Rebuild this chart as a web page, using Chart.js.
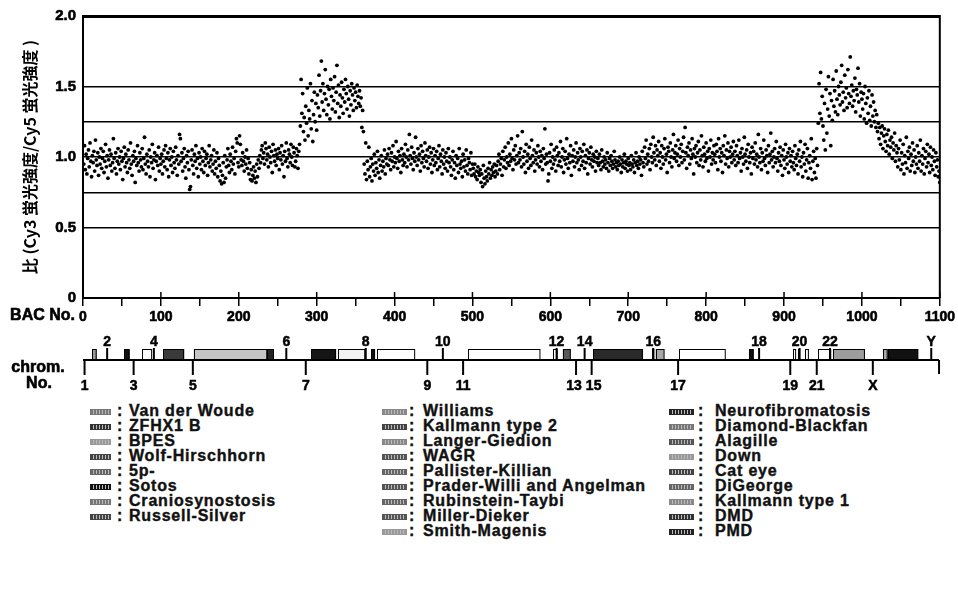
<!DOCTYPE html>
<html lang="ja">
<head>
  <meta charset="UTF-8" />
  <title>BAC array - ratio plot</title>
  <script src="https://cdn.jsdelivr.net/npm/chart.js@4"></script>
  <style>
    body {
      margin: 0;
      background: #fff;
      font-family: 'Liberation Sans', Arial, sans-serif;
    }
    .wrap {
      position: relative;
      width: 958px;
      height: 595px;
      overflow: hidden;
    }
    #bacChart {
      position: absolute;
      left: 0;
      top: 0;
    }
    /* disease legend under the chromosome map */
    .legend {
      position: absolute;
      left: 0;
      top: 403px;
      width: 958px;
      font-family: 'Liberation Sans', Arial, sans-serif;
      font-weight: bold;
      font-size: 16px;
      line-height: 16px;
      letter-spacing: 0.8px;
      -webkit-text-stroke: 0.4px #111;
      color: #111;
    }
    .legend .row {
      position: absolute;
      height: 15px;
      white-space: nowrap;
    }
    .legend .sw {
      position: absolute;
      top: 6px;
      height: 4px;
    }
    .legend .colon, .legend .txt {
      position: absolute;
      top: 0;
    }
  </style>
</head>
<body>
<div class="wrap">
  <canvas id="bacChart" width="958" height="400" style="width:958px;height:400px"></canvas>
  <div class="legend" id="legend"></div>
</div>

<script>
  // ratio Cy3/Cy5 for BAC No. 1..1100
  const ratio = [
    // 1-50
    0.95,1.08,0.91,1.02,0.88,0.99,1.05,0.93,1.10,0.97,0.86,1.01,0.96,1.04,0.90,1.12,0.98,0.94,1.03,0.87,1.00,0.95,1.06,0.92,0.99,
    1.04,0.89,0.97,1.09,0.93,1.01,0.85,0.98,1.05,0.94,1.02,0.90,0.96,1.13,0.99,0.92,1.03,0.88,0.97,1.06,0.95,1.00,0.91,1.04,0.97,
    // 51-100
    0.84,0.99,1.07,0.93,1.02,0.96,0.89,1.05,0.98,0.92,1.10,0.95,0.87,1.01,0.97,1.04,0.82,0.99,0.94,1.08,0.96,0.90,1.03,0.98,0.93,
    1.06,0.91,0.99,1.14,0.95,0.88,1.02,0.97,0.93,1.05,0.86,1.00,0.96,1.09,0.92,0.98,1.03,0.84,0.97,1.01,0.94,1.07,0.90,0.99,0.95,
    // 101-150
    1.02,0.88,0.97,1.05,0.93,1.08,0.99,0.91,1.03,0.86,0.98,1.06,0.94,1.00,0.89,1.04,0.96,0.92,1.07,0.98,0.87,1.01,0.95,1.16,1.13,
    0.97,1.03,0.90,0.99,1.06,0.93,0.85,1.01,0.96,1.04,0.91,0.77,0.79,0.98,1.05,0.94,0.88,1.02,0.97,1.08,0.92,0.99,0.86,1.03,0.95,
    // 151-200
    1.00,0.91,1.06,0.97,0.89,1.04,0.94,0.99,1.02,0.87,0.96,1.08,0.93,0.98,1.01,0.90,0.95,1.05,0.88,0.97,0.92,1.03,0.86,0.99,0.94,
    0.83,0.90,0.81,0.87,0.96,0.82,1.01,0.85,0.93,0.98,1.06,0.94,0.89,1.02,0.97,0.91,1.07,0.95,0.99,0.88,1.04,1.13,1.10,0.96,0.93,
    // 201-250
    1.15,1.09,0.98,0.94,1.03,0.97,0.90,1.00,0.95,1.05,0.92,0.99,0.88,0.96,0.84,0.91,0.83,0.87,0.93,0.85,0.90,0.82,0.95,0.86,0.98,
    0.92,1.01,0.96,1.05,1.08,0.99,1.03,0.95,1.10,1.06,0.98,1.02,0.93,1.07,1.00,0.96,1.04,0.89,1.09,1.01,0.97,1.05,0.94,1.02,0.99,
    // 251-278
    1.06,0.91,1.03,0.98,1.08,0.95,1.01,0.86,1.04,0.97,1.10,0.99,0.93,1.05,1.02,0.96,1.09,1.00,0.94,1.07,1.03,0.93,0.97,1.06,1.01,0.92,1.04,1.09,
    // 279-360 (gain)
    1.22,1.55,1.31,1.45,1.18,1.28,1.12,1.36,1.24,1.49,1.15,1.33,1.27,1.52,1.20,1.40,1.11,1.30,1.46,1.25,1.38,1.19,
    1.44,1.35,1.58,1.29,1.47,1.68,1.39,1.52,1.33,1.45,1.62,1.41,1.30,1.50,1.37,1.48,1.27,1.55,1.43,1.34,1.49,1.40,1.57,1.32,1.46,1.65,1.38,1.51,1.28,1.44,
    1.36,1.53,1.42,1.31,1.48,1.39,1.55,1.45,1.34,1.50,1.41,1.29,1.47,1.37,1.52,1.44,1.33,1.49,1.40,1.46,1.35,1.51,1.43,1.38,1.47,1.36,1.42,1.21,1.33,1.18,
    // 361-470
    0.95,0.88,1.10,0.84,0.97,0.91,1.07,0.86,0.93,0.99,0.83,0.95,0.90,1.02,0.87,0.96,0.92,1.04,0.89,0.98,0.85,0.94,1.01,0.90,0.97,0.93,1.05,0.88,0.99,0.95,
    1.02,0.94,1.06,0.98,0.91,1.03,0.97,1.08,0.93,1.00,0.96,1.11,0.99,0.92,1.04,0.97,1.01,0.89,1.06,0.98,0.94,1.02,0.96,1.09,1.00,
    0.93,1.05,0.98,1.16,1.01,0.95,1.07,0.99,0.91,1.03,0.97,1.14,1.00,0.94,1.06,0.98,1.02,0.90,1.08,0.96,1.04,0.99,0.93,1.10,1.01,
    0.97,1.05,0.92,1.00,1.07,0.95,1.03,0.89,0.98,1.06,0.94,1.01,0.96,1.04,0.91,0.99,1.08,0.93,1.02,0.97,0.88,1.05,0.95,1.00,0.92,1.03,0.97,0.90,1.06,0.96,
    // 471-560
    1.00,0.93,0.87,0.98,1.04,0.91,0.96,0.85,1.01,0.94,0.99,0.89,1.06,0.95,0.92,0.97,0.86,1.02,0.93,0.98,0.90,1.05,0.94,0.88,0.99,0.96,0.91,1.03,0.87,0.95,
    0.92,0.88,0.95,0.86,0.90,0.84,0.93,0.89,0.87,0.91,0.82,0.88,0.79,0.94,0.85,0.81,0.90,0.86,0.83,0.92,0.88,0.96,0.85,0.91,0.87,0.93,0.89,0.95,0.86,0.90,
    0.94,0.88,0.97,1.02,0.91,0.95,0.99,0.87,1.04,0.93,0.98,1.07,0.92,1.00,0.96,1.10,0.94,1.02,0.97,1.13,0.99,0.91,1.05,0.98,1.08,0.95,1.01,1.15,0.96,1.03,
    // 561-660
    0.98,1.06,0.93,1.18,1.00,0.95,1.04,0.89,1.09,0.97,1.02,0.92,1.07,0.99,0.94,1.12,1.01,0.96,1.05,0.90,0.98,1.03,0.95,1.08,1.00,
    0.93,1.04,0.97,1.01,0.91,1.06,0.99,1.20,0.95,1.02,0.96,0.83,0.88,1.03,0.97,1.09,0.92,1.00,0.95,1.05,0.98,0.90,1.07,1.01,0.94,
    1.03,0.97,1.11,0.93,1.00,1.06,0.89,0.98,1.04,0.95,1.13,0.99,0.92,1.02,0.96,1.08,0.87,1.01,0.97,1.05,0.93,1.00,1.10,0.96,1.03,
    0.98,0.91,1.06,1.00,0.94,1.04,0.97,1.09,0.92,1.01,0.96,1.05,0.88,0.99,1.03,0.95,1.07,0.98,0.93,1.02,0.97,1.00,0.90,1.04,0.96,
    // 661-760
    0.99,0.94,1.02,0.96,0.91,1.05,0.97,0.93,1.00,0.95,0.98,0.92,1.03,0.96,0.90,0.99,0.94,1.01,0.97,0.92,0.95,1.04,0.98,0.93,0.96,
    0.91,0.97,0.94,1.00,0.95,0.89,0.98,0.93,0.96,1.02,0.92,0.97,0.95,0.90,0.99,0.94,0.96,0.91,1.01,0.95,0.93,0.98,0.89,0.96,1.03,
    0.94,0.97,0.92,1.00,0.95,0.98,0.87,1.04,0.96,0.93,1.07,0.99,1.12,0.95,1.02,0.97,1.06,0.91,1.09,1.00,0.96,1.14,1.03,0.98,1.08,
    0.94,1.05,1.01,1.11,0.97,1.03,0.92,1.08,1.00,0.95,1.06,1.13,0.98,1.02,0.89,1.07,1.04,0.96,1.10,1.00,0.93,1.05,1.16,0.99,1.03,
    // 761-860
    1.08,0.97,1.02,1.12,0.94,1.06,1.00,1.09,0.96,1.04,1.14,0.98,1.21,1.03,0.92,1.07,1.01,1.10,0.95,1.05,0.99,1.13,1.02,0.88,1.06,
    1.00,1.08,0.96,1.03,1.11,0.94,1.05,0.98,1.15,1.01,0.93,1.07,1.02,0.97,1.10,0.99,1.04,0.90,1.06,1.00,1.12,0.95,1.03,0.98,1.08,
    1.02,0.96,1.09,1.04,0.91,1.13,1.00,1.06,0.97,1.03,0.89,1.08,1.01,1.15,0.95,1.05,0.99,1.10,0.93,1.04,1.00,1.07,0.96,1.02,1.11,
    0.98,1.04,0.94,1.08,1.01,0.96,1.12,0.99,1.03,0.90,1.06,1.00,0.95,1.14,1.02,0.97,1.05,0.92,1.09,1.00,0.96,1.03,0.88,1.07,0.99,
    // 861-943
    1.04,0.95,1.10,0.98,1.02,0.93,1.16,1.00,0.96,1.06,0.91,1.03,0.97,1.12,0.99,0.94,1.05,1.01,0.89,1.08,0.96,1.02,1.17,0.98,1.04,
    0.93,1.00,1.06,0.96,1.11,0.99,0.90,1.03,0.97,1.07,0.94,1.01,0.87,1.05,0.98,0.92,1.09,1.00,0.95,1.03,0.89,1.06,0.97,1.01,0.93,
    1.04,0.96,0.91,1.08,0.99,0.94,1.02,0.88,1.05,0.97,1.11,0.93,1.00,0.86,1.03,0.95,1.09,0.90,0.98,1.06,0.85,0.96,1.01,0.92,1.13,0.84,0.97,1.04,0.89,0.99,0.85,1.06,0.94,
    // 944-1019 (gain)
    1.24,1.52,1.31,1.60,1.27,1.43,1.22,1.12,1.38,1.05,1.48,1.17,1.34,1.57,1.29,1.45,1.08,1.40,1.26,1.55,1.36,1.47,1.32,1.61,1.41,1.30,1.50,
    1.44,1.37,1.53,1.65,1.39,1.46,1.33,1.58,1.42,1.49,1.35,1.62,1.45,1.38,1.71,1.43,1.51,1.36,1.47,1.40,1.56,1.32,1.48,1.44,1.63,1.39,1.52,1.29,1.46,1.41,
    1.34,1.45,1.27,1.50,1.38,1.24,1.42,1.31,1.47,1.26,1.36,1.22,1.44,1.29,1.39,1.25,1.33,1.21,1.30,
    // 1020-1100
    1.18,1.24,1.13,1.21,1.09,1.17,1.22,1.06,1.15,1.20,1.11,1.04,1.16,1.08,1.19,1.02,1.12,1.07,1.14,0.99,1.10,1.05,1.17,0.97,1.08,1.03,
    0.93,1.06,0.98,1.12,0.91,1.03,0.95,1.09,0.88,1.01,0.96,1.14,0.92,1.04,0.99,1.07,0.90,1.02,0.94,1.10,0.97,1.05,0.89,1.00,0.95,
    1.08,0.92,1.03,0.97,1.12,0.90,1.01,0.95,1.06,0.88,0.99,1.04,0.93,1.09,0.96,1.02,0.89,1.07,0.94,1.00,0.91,1.05,0.97,0.87,1.03,0.93,0.98,0.86,0.90,0.82
  ];

  const yTickValues = [0, 0.5, 1, 1.5, 2];
  const yTickText = ['0', '0.5', '1.0', '1.5', '2.0'];
  const guideValues = [0.5, 0.75, 1, 1.25, 1.5];
  const yTitle = '比 (Cy3 蛍光強度/Cy5 蛍光強度 )';

  // chromosome boundaries in BAC No.
  const chromName = ['1','2','3','4','5','6','7','8','9','10','11','12','13','14','15','16','17','18','19','20','21','22','X','Y'];
  const chromPos = [2,31,65,91,141,261,286,363,442,462,488,608,633,644,653,732,764,868,908,920,942,959,1014,1089];
  const chromEnd = 1099;

  // disease regions on the map (BAC No. from / to)
  const regionFrom = [12,53,76,103,142,236,293,327,370,377,494,603,616,655,730,735,765,855,911,918,927,944,963,1027,1033];
  const regionTo   = [18,60,89,130,236,245,325,362,375,426,587,609,626,719,733,746,825,861,915,920,932,961,1004,1033,1072];
  const regionShade = ['#9a9a9a','#111','#fff','#3a3a3a','#c4c4c4','#222','#151515','#f2f2f2','#111','#fff','#fff','#fff',
                       '#5a5a5a','#2a2a2a','#fff','#a8a8a8','#fff','#111','#fff','#fff','#fff','#fff','#9c9c9c','#aaa','#111'];

  const legendLeft = ['Van der Woude','ZFHX1 B','BPES','Wolf-Hirschhorn','5p-','Sotos','Craniosynostosis','Russell-Silver'];
  const legendMid = ['Williams','Kallmann type 2','Langer-Giedion','WAGR','Pallister-Killian','Prader-Willi and Angelman','Rubinstein-Taybi','Miller-Dieker','Smith-Magenis'];
  const legendRight = ['Neurofibromatosis','Diamond-Blackfan','Alagille','Down','Cat eye','DiGeorge','Kallmann type 1','DMD','PMD'];
  const shadeLeft = ['#777','#333','#999','#444','#666','#111','#777','#444'];
  const shadeMid = ['#888','#444','#888','#555','#666','#555','#666','#555','#999'];
  const shadeRight = ['#222','#777','#555','#999','#444','#666','#888','#333','#222'];

  const points = ratio.map((v, i) => ({ x: i + 1, y: v }));

  const boldText = (ctx, s, x, y) => {
    ctx.strokeText(s, x, y);
    ctx.fillText(s, x, y);
  };

  const chromMap = {
    id: 'chromMap',
    afterDraw(chart) {
      const { ctx, chartArea: a, scales: { x } } = chart;
      ctx.save();
      ctx.strokeStyle = '#000';
      ctx.fillStyle = '#000';

      // right frame
      ctx.lineWidth = 2;
      ctx.beginPath();
      ctx.moveTo(a.right, a.top - 1);
      ctx.lineTo(a.right, a.bottom);
      ctx.stroke();

      // major ticks also reach into the plot
      ctx.lineWidth = 1.5;
      for (let v = 0; v <= 1100; v += 100) {
        const px = x.getPixelForValue(v);
        ctx.beginPath();
        ctx.moveTo(px, a.bottom);
        ctx.lineTo(px, a.bottom - 6);
        ctx.stroke();
      }

      ctx.font = 'bold 16px "Liberation Sans", Arial, sans-serif';
      ctx.textBaseline = 'middle';
      ctx.lineWidth = 0.6;
      ctx.textAlign = 'right';
      boldText(ctx, 'BAC No.', 75, 316);
      ctx.textAlign = 'center';
      boldText(ctx, 'chrom.', 38, 368);
      boldText(ctx, 'No.', 39, 384);

      // disease boxes
      const base = 360;
      regionFrom.forEach((s, i) => {
        const x0 = x.getPixelForValue(s);
        const x1 = x.getPixelForValue(regionTo[i]);
        ctx.fillStyle = regionShade[i];
        ctx.fillRect(x0, base - 11, x1 - x0, 11);
        ctx.lineWidth = 1;
        ctx.strokeRect(Math.round(x0) + 0.5, base - 10.5, Math.max(1, x1 - x0 - 1), 10);
      });

      // chromosome line
      ctx.lineWidth = 2;
      ctx.beginPath();
      ctx.moveTo(x.getPixelForValue(0), base);
      ctx.lineTo(x.getPixelForValue(chromEnd), base);
      ctx.stroke();

      ctx.fillStyle = '#000';
      ctx.font = 'bold 14px "Liberation Sans", Arial, sans-serif';
      ctx.textAlign = 'center';
      chromPos.forEach((p, i) => {
        const px = x.getPixelForValue(p);
        const up = i % 2 === 1;
        ctx.lineWidth = 2;
        ctx.beginPath();
        ctx.moveTo(px, base);
        ctx.lineTo(px, up ? base - 12 : base + 15);
        ctx.stroke();
        ctx.lineWidth = 0.5;
        // 13 and 15 sit very close together
        const nudge = chromName[i] === '13' ? -2 : chromName[i] === '15' ? 2 : 0;
        boldText(ctx, chromName[i], px + nudge, up ? 342 : 386);
      });
      const pe = x.getPixelForValue(chromEnd);
      ctx.lineWidth = 2;
      ctx.beginPath();
      ctx.moveTo(pe, base);
      ctx.lineTo(pe, base + 14);
      ctx.stroke();

      ctx.restore();
    }
  };

  new Chart(document.getElementById('bacChart'), {
    type: 'scatter',
    data: {
      datasets: [{
        data: points,
        pointRadius: 1.9,
        pointHoverRadius: 1.9,
        pointBackgroundColor: '#000',
        pointBorderWidth: 0
      }]
    },
    options: {
      responsive: false,
      animation: false,
      layout: { padding: { top: 14, right: 18, left: 0, bottom: 0 } },
      plugins: {
        legend: { display: false },
        tooltip: { enabled: false }
      },
      scales: {
        x: {
          type: 'linear',
          min: 0,
          max: 1100,
          afterFit: s => { s.height = 102; },
          border: { color: '#000', width: 2 },
          grid: { drawOnChartArea: false, color: '#000', lineWidth: 1.5, tickLength: 8 },
          ticks: {
            stepSize: 50,
            autoSkip: false,
            maxRotation: 0,
            padding: 3,
            color: '#000',
            textStrokeColor: '#000',
            textStrokeWidth: 0.6,
            font: { family: 'Liberation Sans', weight: 'bold', size: 14 },
            callback: v => (v % 100 === 0 ? String(v) : '')
          }
        },
        y: {
          min: 0,
          max: 2,
          afterFit: s => { s.width = 83; },
          border: { color: '#000', width: 2 },
          grid: {
            drawTicks: false,
            color: ctx => (ctx.tick.value === 2 || guideValues.includes(ctx.tick.value) ? '#000' : 'rgba(0,0,0,0)'),
            lineWidth: ctx => (ctx.tick.value === 2 ? 3 : guideValues.includes(ctx.tick.value) ? 1.5 : 0)
          },
          ticks: {
            stepSize: 0.25,
            padding: 7,
            color: '#000',
            textStrokeColor: '#000',
            textStrokeWidth: 0.6,
            font: { family: 'Liberation Sans', weight: 'bold', size: 15 },
            callback: v => {
              const k = yTickValues.indexOf(v);
              return k >= 0 ? yTickText[k] : '';
            }
          },
          title: {
            display: true,
            text: yTitle,
            color: '#000',
            font: { family: 'Noto Sans CJK JP', weight: 'bold', size: 16 },
            padding: { top: 20, bottom: 0 }
          }
        }
      }
    },
    plugins: [chromMap]
  });

  // legend (three columns)
  const legendCols = [
    { names: legendLeft, shades: shadeLeft, sw: 90, swW: 19, colon: 117, txt: 129 },
    { names: legendMid, shades: shadeMid, sw: 382, swW: 23, colon: 409, txt: 423 },
    { names: legendRight, shades: shadeRight, sw: 669, swW: 23, colon: 698, txt: 715 }
  ];
  const legendEl = document.getElementById('legend');
  legendCols.forEach(col => {
    col.names.forEach((name, i) => {
      const row = document.createElement('div');
      row.className = 'row';
      row.style.top = (i * 15) + 'px';
      row.style.left = '0px';
      const sw = document.createElement('span');
      sw.className = 'sw';
      sw.style.left = col.sw + 'px';
      sw.style.width = col.swW + 'px';
      sw.style.background = 'repeating-linear-gradient(90deg,' + col.shades[i] + ' 0 2px,#bbb 2px 3px)';
      sw.style.border = '1px solid ' + col.shades[i];
      const colon = document.createElement('span');
      colon.className = 'colon';
      colon.style.left = col.colon + 'px';
      colon.textContent = ':';
      const txt = document.createElement('span');
      txt.className = 'txt';
      txt.style.left = col.txt + 'px';
      txt.textContent = name;
      row.append(sw, colon, txt);
      legendEl.appendChild(row);
    });
  });
</script>
</body>
</html>
